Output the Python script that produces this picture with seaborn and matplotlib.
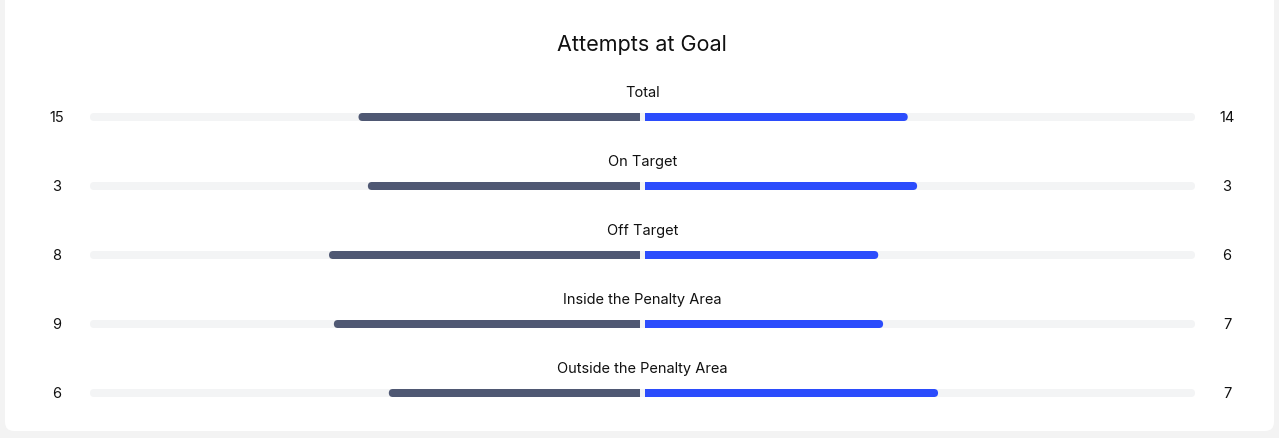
import numpy as np
import pandas as pd
import matplotlib
matplotlib.use("Agg")
import matplotlib.pyplot as plt
from matplotlib.patches import FancyBboxPatch
import seaborn as sns

# data
categories = ["Total", "On Target", "Off Target", "Inside the Penalty Area", "Outside the Penalty Area"]
home = [15, 3, 8, 9, 6]
away = [14, 3, 6, 7, 7]
title = "Attempts at Goal"

home_color = "#4f5873"
away_color = "#2b4cfc"
track_color = "#f3f4f5"

sns.set_theme(style="white")
plt.rcParams["font.family"] = ["Inter", "DejaVu Sans"]

W, H = 1279, 439
fig = plt.figure(figsize=(W / 100, H / 100), dpi=100)
fig.patch.set_facecolor("#f3f3f3")

# card background in pixel coords
bg = fig.add_axes([0, 0, 1, 1])
bg.set_xlim(0, W)
bg.set_ylim(H, 0)
bg.axis("off")
bg.add_patch(FancyBboxPatch((5, -20), 1269, 452, boxstyle="round,pad=0,rounding_size=9",
                            facecolor="white", edgecolor="none"))
bg.text(642, 45, title, ha="center", va="center", fontsize=15.5, color="#111111")

# bar axes (row centres on whole pixels so bar edges stay crisp)
row_px = 69
left_px, right_px = 90, 1195
top_px = 118 - row_px / 2
ax = fig.add_axes([left_px / W, 1 - (top_px + 5 * row_px) / H,
                   (right_px - left_px) / W, 5 * row_px / H])
ax.patch.set_alpha(0)

# bars show each side's share of the row total (track is a bit longer than a full bar)
home_a = np.array(home, dtype=float)
away_a = np.array(away, dtype=float)
tot = home_a + away_a
fill = 0.985
df = pd.DataFrame({
    "category": categories * 2,
    "share": list(-home_a / tot * fill) + list(away_a / tot * fill),
    "side": ["home"] * len(categories) + ["away"] * len(categories),
})

xpx = (right_px - left_px) / 2  # px per x unit
bar_h = 8 / row_px
sns.barplot(data=df, x="share", y="category", hue="side", order=categories,
            palette={"home": home_color, "away": away_color}, dodge=False,
            width=bar_h, orient="h", legend=False, ax=ax, saturation=1)

ax.set_xlim(-1, 1)
ax.set_ylim(4.5, -0.5)
ax.axis("off")

aspect = xpx / row_px
rx = 4 / xpx
gap = 2.5 / xpx
for p in list(ax.patches):
    w = p.get_width()
    yc = round(p.get_y() + p.get_height() / 2)
    p.set_y(yc - bar_h / 2)
    p.set_height(bar_h)
    p.set_edgecolor("none")
    p.set_linewidth(0)
    col = p.get_facecolor()
    if w < 0:
        a, b = -gap + w, -gap
        p.set_x(a + 2 * rx)
        p.set_width(b - a - 2 * rx)
        cap_x = a
    else:
        a, b = gap, gap + w
        p.set_x(a)
        p.set_width(b - a - 2 * rx)
        cap_x = b - 4 * rx
    ax.add_patch(FancyBboxPatch((cap_x, yc - bar_h / 2), 4 * rx, bar_h,
                                boxstyle=f"round,pad=0,rounding_size={rx}",
                                mutation_aspect=aspect, facecolor=col,
                                edgecolor="none", zorder=p.get_zorder()))

for i, cat in enumerate(categories):
    ax.add_patch(FancyBboxPatch((-1, i - bar_h / 2), 2, bar_h,
                                boxstyle=f"round,pad=0,rounding_size={rx}",
                                mutation_aspect=aspect, facecolor=track_color,
                                edgecolor="none", zorder=0.5))
    ax.text(0, i - 25 / row_px, cat, ha="center", va="center",
            fontsize=10.5, color="#111111")
    ax.text(-1 - 33 / xpx, i, str(home[i]), ha="center", va="center",
            fontsize=10.5, color="#111111", clip_on=False)
    ax.text(1 + 32 / xpx, i, str(away[i]), ha="center", va="center",
            fontsize=10.5, color="#111111", clip_on=False)

fig.savefig("out.png", dpi=100, facecolor=fig.get_facecolor())
